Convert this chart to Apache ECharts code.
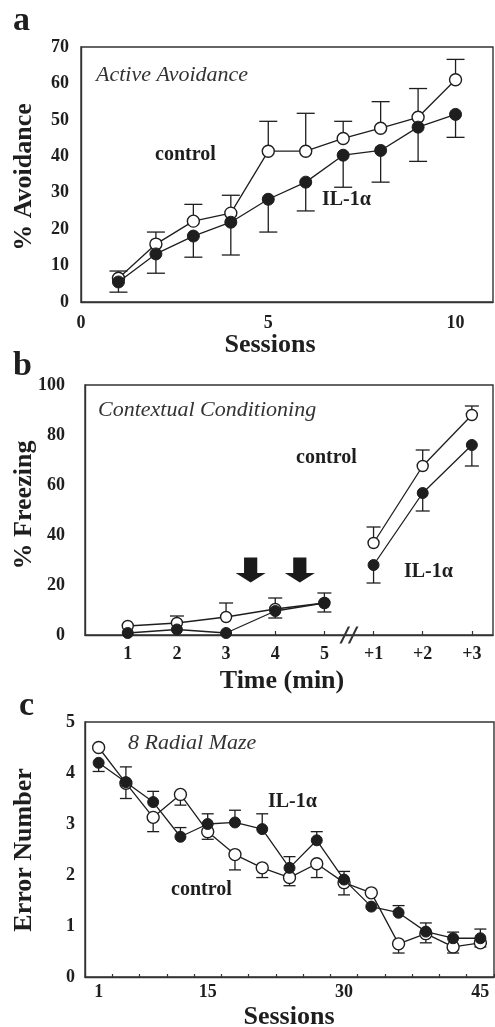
<!DOCTYPE html>
<html>
<head>
<meta charset="utf-8">
<script src="https://cdn.jsdelivr.net/npm/echarts@6/dist/echarts.min.js"></script>
<style>
html,body{margin:0;padding:0;background:#fff;}
#chart{width:495px;height:1027px;}
</style>
</head>
<body>
<div id="chart"></div>
<script>
// ---------- Panel a: Active Avoidance ----------
const sessionsA   = [1, 2, 3, 4, 5, 6, 7, 8, 9, 10];
const controlA    = [6.5, 15.9, 22.2, 24.4, 41.4, 41.4, 44.9, 47.7, 50.7, 61.0];
const controlErrA = [2.0, 3.3, 4.6, 4.9, 8.2, 10.4, 4.7, 7.3, 7.9, 5.6];
const il1aA       = [5.5, 13.2, 18.1, 21.9, 28.2, 32.9, 40.3, 41.6, 48.0, 51.5];
const il1aErrA    = [2.8, 5.3, 5.8, 9.0, 9.0, 7.9, 8.8, 8.7, 9.4, 6.3];
const xTicksA     = [0, 5, 10];

// ---------- Panel b: Contextual Conditioning ----------
const timePosB    = [1, 2, 3, 4, 5, 6, 7, 8];
const timeLabelsB = ['1', '2', '3', '4', '5', '+1', '+2', '+3'];
const controlB    = [3.6, 4.8, 7.2, 10.4, 12.8, 36.8, 67.6, 88.0];
const controlErrB = [0, 2.8, 5.6, 4.4, 4.0, 6.4, 6.4, 3.6];
const il1aB       = [0.8, 2.2, 0.8, 9.6, 12.8, 28.0, 56.8, 76.0];
const il1aErrB    = [0, 0, 0, 2.8, 3.6, 7.2, 7.2, 8.4];
const shockTimesB = [3.5, 4.5];
const shockLevelB = 26;
const breakPosB   = 5.5;

// ---------- Panel c: 8 Radial Maze ----------
const blocksC        = ['1','2','3','4','5','6','7','8','9','10','11','12','13','14','15'];
const sessionLabelsC = ['1', '', '', '', '15', '', '', '', '', '30', '', '', '', '', '45'];
const controlC       = [4.5, 3.8, 3.13, 3.58, 2.85, 2.4, 2.14, 1.95, 2.22, 1.85, 1.65, 0.65, 0.85, 0.59, 0.67];
const controlDownC   = [0, 0.3, 0.28, 0.21, 0.15, 0.3, 0.19, 0.16, 0.27, 0.24, 0, 0.18, 0.18, 0.12, 0.08];
const il1aC          = [4.2, 3.82, 3.43, 2.75, 3.0, 3.03, 2.9, 2.14, 2.68, 1.91, 1.38, 1.26, 0.89, 0.76, 0.76];
const il1aUpC        = [0, 0.3, 0.21, 0.18, 0.2, 0.24, 0.3, 0.22, 0.17, 0.16, 0, 0.14, 0.17, 0.12, 0.18];
const il1aDownC      = [0.17, 0, 0, 0, 0, 0, 0, 0, 0, 0, 0, 0, 0, 0, 0];

const INK = '#1e1e1e';
const SERIF = '"Liberation Serif", "Times New Roman", serif';

function errRender(capW) {
  return function (params, api) {
    const x = api.value(0), y0 = api.value(1), y1 = api.value(2);
    if (y0 === y1) return null;
    const p0 = api.coord([x, y0]);
    const p1 = api.coord([x, y1]);
    const st = { stroke: INK, lineWidth: 1.3 };
    return {
      type: 'group',
      children: [
        { type: 'line', shape: { x1: p0[0], y1: p0[1], x2: p1[0], y2: p1[1] }, style: st },
        { type: 'line', shape: { x1: p1[0] - capW / 2, y1: p1[1], x2: p1[0] + capW / 2, y2: p1[1] }, style: st }
      ]
    };
  };
}

const openSym = { color: '#fff', borderColor: INK, borderWidth: 1.4, opacity: 1 };
const fillSym = { color: INK, borderColor: INK, borderWidth: 1, opacity: 1 };
const lineSty = { color: INK, width: 1.3 };

function lineSeries(grid, data, filled, size) {
  return {
    type: 'line', xAxisIndex: grid, yAxisIndex: grid, data: data,
    symbol: 'circle', symbolSize: size, showSymbol: true,
    lineStyle: lineSty, itemStyle: filled ? fillSym : openSym,
    z: filled ? 4 : 3, animation: false, silent: true, clip: false
  };
}
function errSeries(grid, data, capW) {
  return {
    type: 'custom', xAxisIndex: grid, yAxisIndex: grid, data: data,
    renderItem: errRender(capW), z: 1, animation: false, silent: true, clip: false
  };
}

const tickLabel = { fontFamily: SERIF, fontWeight: 'bold', fontSize: 18, color: INK };
const axisLine = { show: true, lineStyle: { color: '#333', width: 1.4 } };

const gridBox = { show: true, borderColor: '#333', borderWidth: 1.4, backgroundColor: 'transparent' };

const option = {
  backgroundColor: '#fff',
  animation: false,
  grid: [
    Object.assign({ left: 81, right: 2, top: 47, height: 255 }, gridBox),
    Object.assign({ left: 85, right: 2, top: 385, height: 250 }, gridBox),
    Object.assign({ left: 85, right: 1, top: 722, height: 255 }, gridBox)
  ],
  xAxis: [
    { gridIndex: 0, type: 'value', min: 0, max: 11,
      axisLine: axisLine, axisTick: { show: false }, splitLine: { show: false },
      axisLabel: Object.assign({ margin: 12, customValues: xTicksA, showMinLabel: true }, tickLabel) },
    { gridIndex: 1, type: 'value', min: 0.13, max: 8.43,
      axisLine: axisLine, splitLine: { show: false },
      axisTick: { show: true, inside: true, length: 4, customValues: timePosB, lineStyle: { color: '#333', width: 1.2 } },
      axisLabel: Object.assign({ margin: 10, customValues: timePosB,
        formatter: function (v) { const i = timePosB.indexOf(Math.round(v)); return i >= 0 ? timeLabelsB[i] : ''; } }, tickLabel) },
    { gridIndex: 2, type: 'category', data: blocksC, boundaryGap: true,
      axisLine: axisLine, splitLine: { show: false },
      axisTick: { show: true, inside: true, length: 3, interval: 0, lineStyle: { color: '#333', width: 1.2 } },
      axisLabel: Object.assign({ margin: 6, interval: 0,
        formatter: function (v, i) { return sessionLabelsC[i]; } }, tickLabel) }
  ],
  yAxis: [
    { gridIndex: 0, type: 'value', min: 0, max: 70, interval: 10,
      axisLine: axisLine, axisTick: { show: false }, splitLine: { show: false },
      axisLabel: Object.assign({ margin: 12 }, tickLabel) },
    { gridIndex: 1, type: 'value', min: 0, max: 100, interval: 20,
      axisLine: axisLine, axisTick: { show: false }, splitLine: { show: false },
      axisLabel: Object.assign({ margin: 20 }, tickLabel) },
    { gridIndex: 2, type: 'value', min: 0, max: 5, interval: 1,
      axisLine: axisLine, axisTick: { show: false }, splitLine: { show: false },
      axisLabel: Object.assign({ margin: 10 }, tickLabel) }
  ],
  series: [
    // panel a
    errSeries(0, sessionsA.map((x, i) => [x, controlA[i], controlA[i] + controlErrA[i]]), 18),
    errSeries(0, sessionsA.map((x, i) => [x, il1aA[i], il1aA[i] - il1aErrA[i]]), 18),
    lineSeries(0, sessionsA.map((x, i) => [x, controlA[i]]), false, 12),
    lineSeries(0, sessionsA.map((x, i) => [x, il1aA[i]]), true, 12),
    // panel b
    errSeries(1, timePosB.map((x, i) => [x, controlB[i], controlB[i] + controlErrB[i]]), 14),
    errSeries(1, timePosB.map((x, i) => [x, il1aB[i], il1aB[i] - il1aErrB[i]]), 14),
    lineSeries(1, timePosB.slice(0, 5).map((x, i) => [x, controlB[i]]), false, 11),
    lineSeries(1, timePosB.slice(5).map((x, i) => [x, controlB[i + 5]]), false, 11),
    lineSeries(1, timePosB.slice(0, 5).map((x, i) => [x, il1aB[i]]), true, 11),
    lineSeries(1, timePosB.slice(5).map((x, i) => [x, il1aB[i + 5]]), true, 11),
    { type: 'scatter', xAxisIndex: 1, yAxisIndex: 1, silent: true, animation: false,
      data: shockTimesB.map(t => [t, shockLevelB]),
      symbol: 'path://M28,0 L72,0 L72,62 L100,62 L50,100 L0,62 L28,62 Z',
      symbolSize: [30, 25], itemStyle: { color: '#1a1a1a', opacity: 1 }, z: 5 },
    { type: 'scatter', xAxisIndex: 1, yAxisIndex: 1, silent: true, animation: false, clip: false,
      data: [[breakPosB, 0]],
      symbol: 'path://M0,100 L44,0 L56,0 L12,100 Z M44,100 L88,0 L100,0 L56,100 Z',
      symbolSize: [19, 17], itemStyle: { color: '#333', opacity: 1 }, z: 6 },
    // panel c
    errSeries(2, blocksC.map((b, i) => [i, controlC[i], controlC[i] - controlDownC[i]]), 12),
    errSeries(2, blocksC.map((b, i) => [i, il1aC[i], il1aC[i] + il1aUpC[i]]), 12),
    errSeries(2, blocksC.map((b, i) => [i, il1aC[i], il1aC[i] - il1aDownC[i]]), 12),
    lineSeries(2, controlC, false, 12),
    lineSeries(2, il1aC, true, 11)
  ],
  graphic: [
    // panel letters
    { type: 'text', x: 13, y: 21, style: { text: 'a', font: 'bold 34px ' + SERIF, fill: INK, textAlign: 'left', textVerticalAlign: 'middle' } },
    { type: 'text', x: 13, y: 366, style: { text: 'b', font: 'bold 34px ' + SERIF, fill: INK, textAlign: 'left', textVerticalAlign: 'middle' } },
    { type: 'text', x: 19, y: 706, style: { text: 'c', font: 'bold 34px ' + SERIF, fill: INK, textAlign: 'left', textVerticalAlign: 'middle' } },
    // panel titles
    { type: 'text', x: 96, y: 75, style: { text: 'Active Avoidance', font: 'italic 22px ' + SERIF, fill: '#333', textAlign: 'left', textVerticalAlign: 'middle' } },
    { type: 'text', x: 98, y: 410, style: { text: 'Contextual Conditioning', font: 'italic 22px ' + SERIF, fill: '#333', textAlign: 'left', textVerticalAlign: 'middle' } },
    { type: 'text', x: 128, y: 743, style: { text: '8 Radial Maze', font: 'italic 22px ' + SERIF, fill: '#333', textAlign: 'left', textVerticalAlign: 'middle' } },
    // group annotations
    { type: 'text', x: 155, y: 155, style: { text: 'control', font: 'bold 20px ' + SERIF, fill: INK, textAlign: 'left', textVerticalAlign: 'middle' } },
    { type: 'text', x: 322, y: 200, style: { text: 'IL-1α', font: 'bold 20px ' + SERIF, fill: INK, textAlign: 'left', textVerticalAlign: 'middle' } },
    { type: 'text', x: 296, y: 458, style: { text: 'control', font: 'bold 20px ' + SERIF, fill: INK, textAlign: 'left', textVerticalAlign: 'middle' } },
    { type: 'text', x: 404, y: 572, style: { text: 'IL-1α', font: 'bold 20px ' + SERIF, fill: INK, textAlign: 'left', textVerticalAlign: 'middle' } },
    { type: 'text', x: 268, y: 802, style: { text: 'IL-1α', font: 'bold 20px ' + SERIF, fill: INK, textAlign: 'left', textVerticalAlign: 'middle' } },
    { type: 'text', x: 171, y: 890, style: { text: 'control', font: 'bold 20px ' + SERIF, fill: INK, textAlign: 'left', textVerticalAlign: 'middle' } },
    // axis titles
    { type: 'text', x: 270, y: 345, style: { text: 'Sessions', font: 'bold 26px ' + SERIF, fill: INK, textAlign: 'center', textVerticalAlign: 'middle' } },
    { type: 'text', x: 282, y: 681, style: { text: 'Time (min)', font: 'bold 26px ' + SERIF, fill: INK, textAlign: 'center', textVerticalAlign: 'middle' } },
    { type: 'text', x: 289, y: 1017, style: { text: 'Sessions', font: 'bold 26px ' + SERIF, fill: INK, textAlign: 'center', textVerticalAlign: 'middle' } },
    { type: 'text', x: 24, y: 177, rotation: Math.PI / 2, style: { text: '% Avoidance', font: 'bold 26px ' + SERIF, fill: INK, textAlign: 'center', textVerticalAlign: 'middle' } },
    { type: 'text', x: 24, y: 505, rotation: Math.PI / 2, style: { text: '% Freezing', font: 'bold 26px ' + SERIF, fill: INK, textAlign: 'center', textVerticalAlign: 'middle' } },
    { type: 'text', x: 24, y: 850, rotation: Math.PI / 2, style: { text: 'Error Number', font: 'bold 26px ' + SERIF, fill: INK, textAlign: 'center', textVerticalAlign: 'middle' } }
  ]
};

const chart = echarts.init(document.getElementById('chart'), null, { renderer: 'canvas', width: 495, height: 1027 });
chart.setOption(option);
</script>
</body>
</html>
